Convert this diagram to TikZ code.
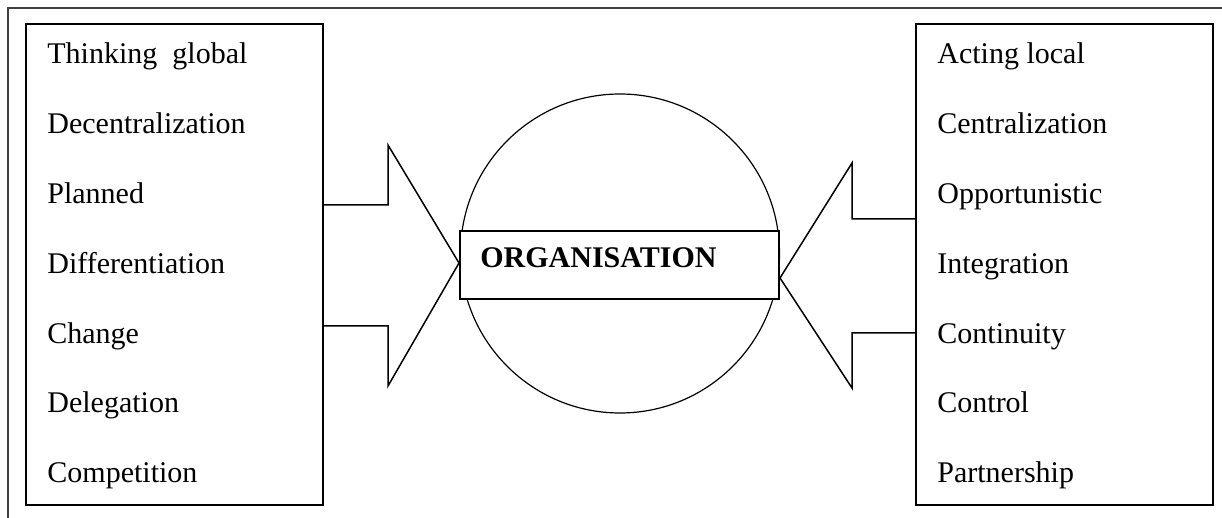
\documentclass[tikz,border=0pt]{standalone}
\usepackage{fontspec}
\setmainfont{Liberation Serif}
\begin{document}
\begin{tikzpicture}[x=0.5pt,y=-0.5pt]
\tikzset{ item/.style={anchor=base west, inner sep=0pt, font=\fontsize{15}{18}\selectfont},
  frame/.style={draw, line width=1pt, inner sep=0pt},
  blockarrow/.style={line width=0.75pt, line join=miter} }
\useasboundingbox (0,0) rectangle (1222,518);

\draw [line width=0.7pt, black!75] (8,530) -- (8,8) -- (1230,8);

% the two lists
\node [frame, minimum width=148.5pt, minimum height=240.5pt] (LB) at (174.5,264.5) {};
\node [frame, minimum width=148.5pt, minimum height=240.5pt] (RB) at (1064.5,264.5) {};

\foreach \t [count=\i from 0] in {Thinking~~global, Decentralization, Planned,
  Differentiation, Change, Delegation, Competition}
  \node [item] (L\i) at (47,64+69.8*\i) {\t};

\foreach \t [count=\i from 0] in {Acting local, Centralization, Opportunistic,
  Integration, Continuity, Control, Partnership}
  \node [item] (R\i) at (937,64+69.8*\i) {\t};

% organisation
\node [draw, circle, line width=0.6pt, minimum size=159.5pt, inner sep=0pt] (globe) at (620,253.5) {};
\node [frame, fill=white, minimum width=159.5pt, minimum height=34pt] (OB) at (619.5,265) {};
\node [item, font=\bfseries\fontsize{15}{18}\selectfont] (org) at (480,268) {ORGANISATION};

\draw [blockarrow] (LB.east |- 0,205) -- (388,205) -- (388,145) -- (OB.west |- 0,263)
  -- (388,386) -- (388,326) -- (LB.east |- 0,326);
\draw [blockarrow] (RB.west |- 0,219) -- (852,219) -- (852,163) -- (OB.east |- 0,278)
  -- (852,388) -- (852,333) -- (RB.west |- 0,333);

\end{tikzpicture}
\end{document}
